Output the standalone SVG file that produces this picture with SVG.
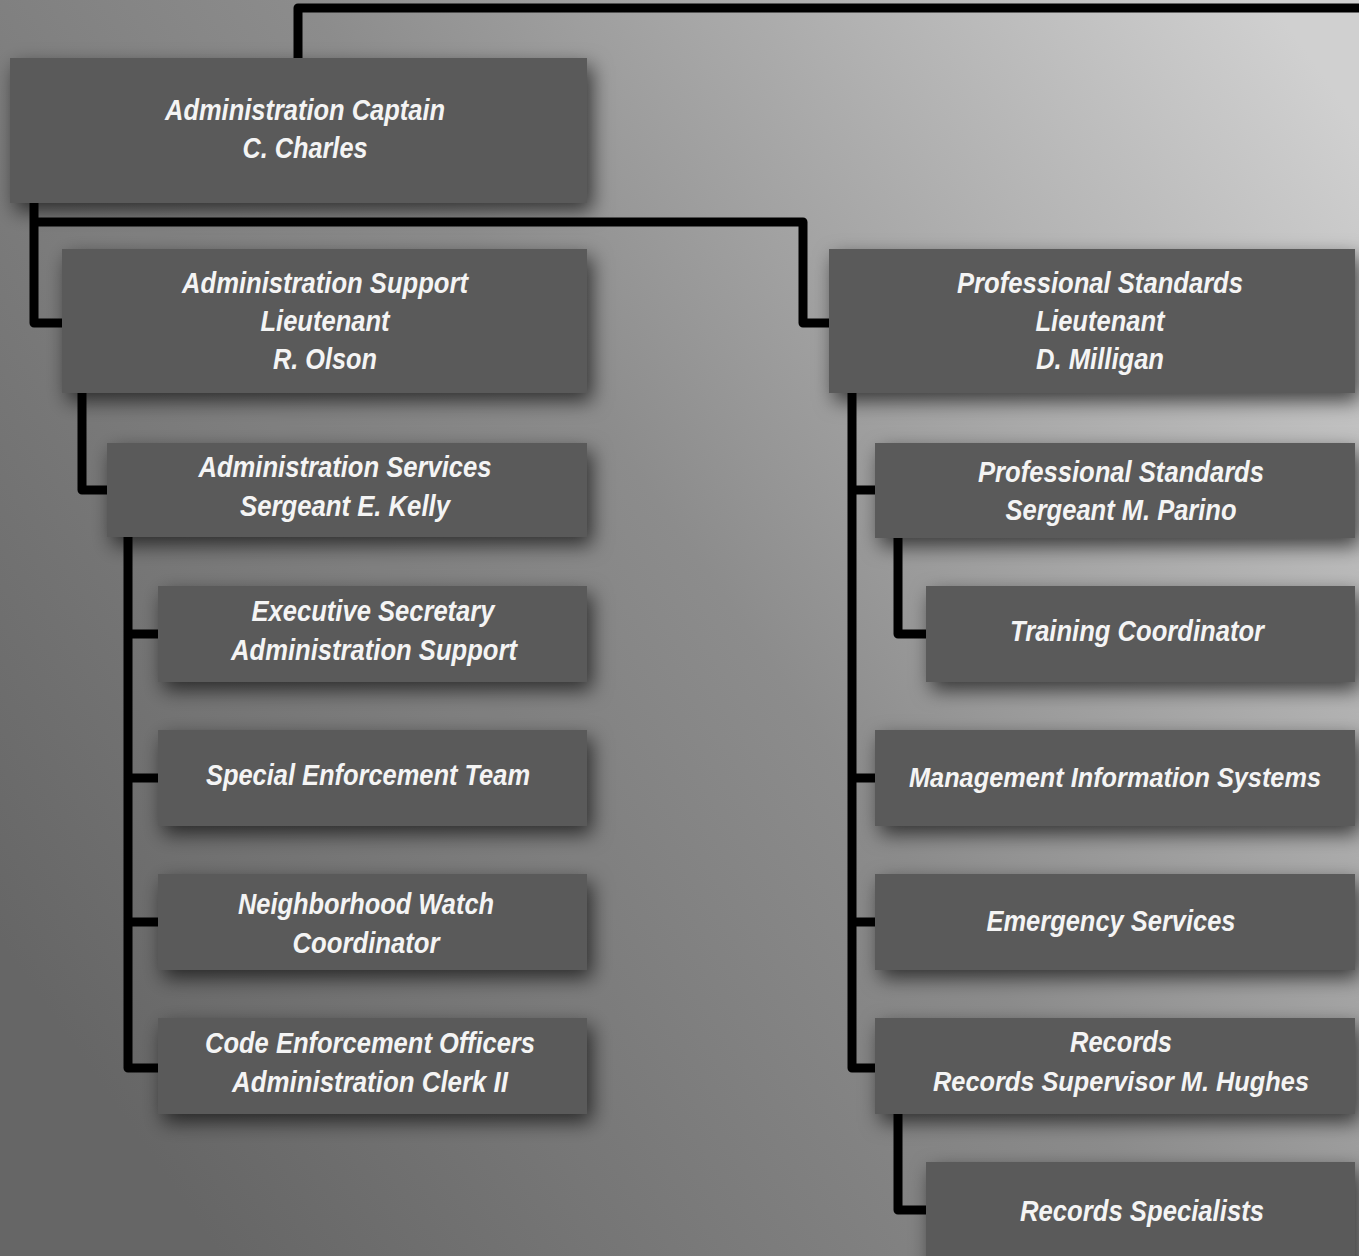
<svg xmlns="http://www.w3.org/2000/svg" width="1359" height="1256" viewBox="0 0 1359 1256">
<defs>
<linearGradient id="bg" x1="0" y1="0.75" x2="1" y2="0.1">
<stop offset="0" stop-color="#666666"/>
<stop offset="0.5" stop-color="#8c8c8c"/>
<stop offset="1" stop-color="#d0d0d0"/>
</linearGradient>
<filter id="sh" x="-10%" y="-25%" width="125%" height="160%">
<feDropShadow dx="5" dy="8" stdDeviation="10" flood-color="#000" flood-opacity="0.65"/>
</filter>
</defs>
<style>
.box{fill:#5a5a5a;filter:url(#sh);}
.t{font-family:"Liberation Sans Narrow","Liberation Sans",Arial,sans-serif;font-weight:bold;font-style:italic;font-size:29px;fill:#f4f4f4;text-anchor:middle;}
.s{font-size:27px;}
.c{fill:none;stroke:#000;stroke-width:9;stroke-linejoin:round;stroke-linecap:butt;}
</style>
<rect width="1359" height="1256" fill="url(#bg)"/>
<g id="connectors">
<path class="c" d="M298,58 V8 H1365"/>
<path class="c" d="M34,203 V323 H62"/>
<path class="c" d="M34,222 H803 V323 H829"/>
<path class="c" d="M82,393 V490 H107"/>
<path class="c" d="M128,537 V1068 H158 M128,634 H158 M128,778 H158 M128,922 H158"/>
<path class="c" d="M852,393 V1068 H875 M852,490 H875 M852,778 H875 M852,922 H875"/>
<path class="c" d="M898,538 V634 H926"/>
<path class="c" d="M898,1114 V1210 H926"/>
</g>
<g id="captain"><rect class="box" x="10" y="58" width="577" height="145"/>
<text class="t" x="305" y="120" textLength="280" lengthAdjust="spacingAndGlyphs">Administration Captain</text>
<text class="t" x="305" y="158" textLength="125" lengthAdjust="spacingAndGlyphs">C. Charles</text></g>
<g id="admin-support"><rect class="box" x="62" y="249" width="525" height="144"/>
<text class="t" x="325" y="293" textLength="286" lengthAdjust="spacingAndGlyphs">Administration Support</text>
<text class="t" x="325" y="331" textLength="129" lengthAdjust="spacingAndGlyphs">Lieutenant</text>
<text class="t" x="325" y="369" textLength="104" lengthAdjust="spacingAndGlyphs">R. Olson</text></g>
<g id="admin-services"><rect class="box" x="107" y="443" width="480" height="94"/>
<text class="t" x="345" y="477" textLength="293" lengthAdjust="spacingAndGlyphs">Administration Services</text>
<text class="t" x="345" y="516" textLength="210" lengthAdjust="spacingAndGlyphs">Sergeant E. Kelly</text></g>
<g id="exec-secretary"><rect class="box" x="158" y="586" width="429" height="96"/>
<text class="t" x="373" y="621" textLength="243" lengthAdjust="spacingAndGlyphs">Executive Secretary</text>
<text class="t" x="374" y="660" textLength="286" lengthAdjust="spacingAndGlyphs">Administration Support</text></g>
<g id="special-enforcement"><rect class="box" x="158" y="730" width="429" height="96"/>
<text class="t" x="368" y="785" textLength="324" lengthAdjust="spacingAndGlyphs">Special Enforcement Team</text></g>
<g id="neighborhood-watch"><rect class="box" x="158" y="874" width="429" height="96"/>
<text class="t" x="366" y="914" textLength="256" lengthAdjust="spacingAndGlyphs">Neighborhood Watch</text>
<text class="t" x="366" y="953" textLength="147" lengthAdjust="spacingAndGlyphs">Coordinator</text></g>
<g id="code-enforcement"><rect class="box" x="158" y="1018" width="429" height="96"/>
<text class="t" x="370" y="1053" textLength="330" lengthAdjust="spacingAndGlyphs">Code Enforcement Officers</text>
<text class="t" x="370" y="1092" textLength="276" lengthAdjust="spacingAndGlyphs">Administration Clerk II</text></g>
<g id="prof-standards-lt"><rect class="box" x="829" y="249" width="526" height="144"/>
<text class="t" x="1100" y="293" textLength="286" lengthAdjust="spacingAndGlyphs">Professional Standards</text>
<text class="t" x="1100" y="331" textLength="129" lengthAdjust="spacingAndGlyphs">Lieutenant</text>
<text class="t" x="1100" y="369" textLength="128" lengthAdjust="spacingAndGlyphs">D. Milligan</text></g>
<g id="prof-standards-sgt"><rect class="box" x="875" y="443" width="480" height="95"/>
<text class="t" x="1121" y="482" textLength="286" lengthAdjust="spacingAndGlyphs">Professional Standards</text>
<text class="t" x="1121" y="520" textLength="231" lengthAdjust="spacingAndGlyphs">Sergeant M. Parino</text></g>
<g id="training"><rect class="box" x="926" y="586" width="429" height="96"/>
<text class="t" x="1137" y="641" textLength="254" lengthAdjust="spacingAndGlyphs">Training Coordinator</text></g>
<g id="mis"><rect class="box" x="875" y="730" width="480" height="96"/>
<text class="t s" x="1115" y="787" textLength="412" lengthAdjust="spacingAndGlyphs">Management Information Systems</text></g>
<g id="emergency"><rect class="box" x="875" y="874" width="480" height="96"/>
<text class="t" x="1111" y="931" textLength="249" lengthAdjust="spacingAndGlyphs">Emergency Services</text></g>
<g id="records"><rect class="box" x="875" y="1018" width="480" height="96"/>
<text class="t" x="1121" y="1052" textLength="102" lengthAdjust="spacingAndGlyphs">Records</text>
<text class="t s" x="1121" y="1091" textLength="376" lengthAdjust="spacingAndGlyphs">Records Supervisor M. Hughes</text></g>
<g id="records-specialists"><rect class="box" x="926" y="1162" width="429" height="110"/>
<text class="t" x="1142" y="1221" textLength="244" lengthAdjust="spacingAndGlyphs">Records Specialists</text></g>
</svg>
